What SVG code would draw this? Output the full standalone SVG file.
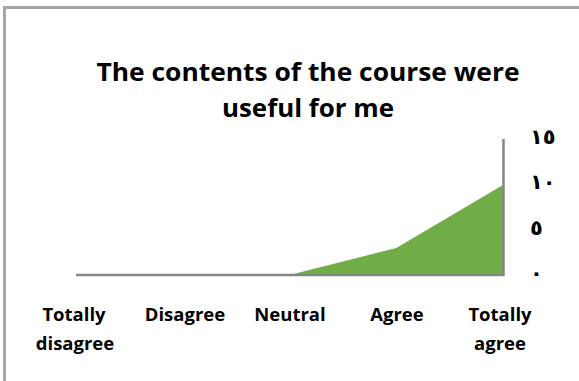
<svg xmlns="http://www.w3.org/2000/svg" width="579" height="381" viewBox="0 0 579 381">
<style>
.t{font-family:"Open Sans","Liberation Sans",sans-serif;font-weight:bold;fill:#000}
.title{font-size:25px}
.cat{font-size:18.5px;text-anchor:middle}
.yl{font-family:"DejaVu Sans",sans-serif;font-weight:bold;font-size:21px;fill:#000}
.axis{stroke:#868686;stroke-width:2.5;fill:none}
</style>
<rect width="579" height="381" fill="#fff"/>
<path d="M4.5,390 V7.5 H590" fill="none" stroke="#a6a6a6" stroke-width="3"/>
<g id="title">
<text class="t title" x="308" y="81" text-anchor="middle" textLength="423" lengthAdjust="spacingAndGlyphs">The contents of the course were</text>
<text class="t title" x="308" y="117" text-anchor="middle" textLength="172" lengthAdjust="spacingAndGlyphs">useful for me</text>
</g>
<g id="area">
<polygon points="76,275 182.75,275 289.5,275 396.25,248 503,185 503,275" fill="#70ad47"/>
</g>
<g id="axes">
<path class="axis" d="M76,275 H503.5 V139"/>
</g>
<g id="y-labels">
<text class="yl" x="530" y="144">١٥</text>
<text class="yl" x="530" y="189">١٠</text>
<text class="yl" x="530" y="235">٥</text>
<text class="yl" x="530" y="280">٠</text>
</g>
<g id="x-labels">
<text class="t cat" x="74" y="321">Totally</text>
<text class="t cat" x="75" y="350">disagree</text>
<text class="t cat" x="185" y="321">Disagree</text>
<text class="t cat" x="290" y="321">Neutral</text>
<text class="t cat" x="397" y="321">Agree</text>
<text class="t cat" x="500" y="321">Totally</text>
<text class="t cat" x="500" y="350">agree</text>
</g>
</svg>
